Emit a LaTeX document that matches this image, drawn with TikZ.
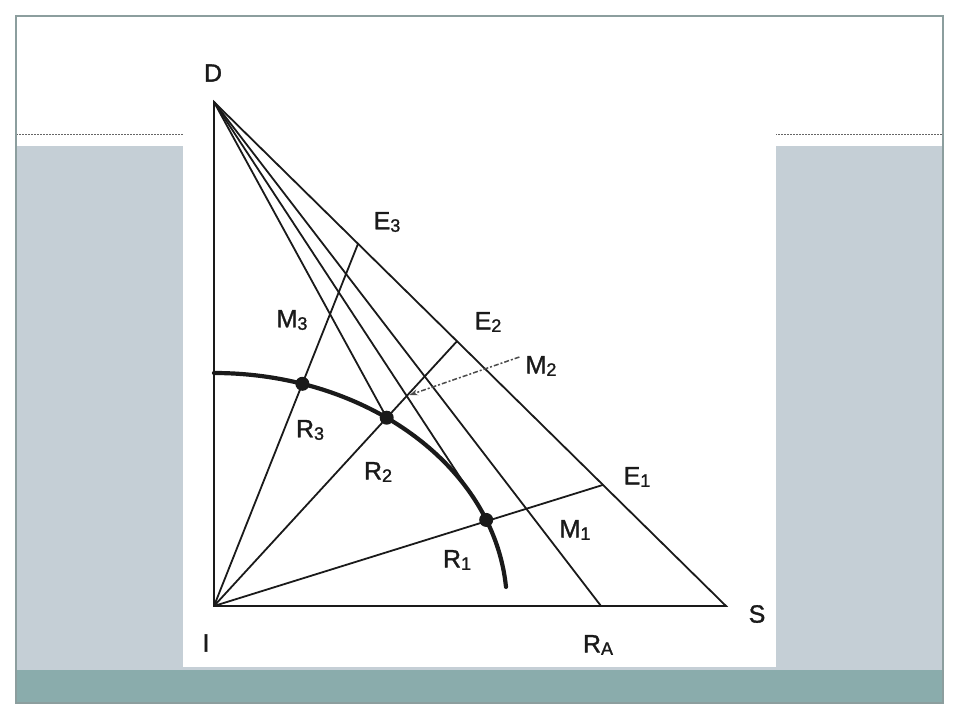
\documentclass[tikz,border=0pt]{standalone}
\usepackage{fontspec}
\setmainfont{Liberation Sans}
\newfontfamily\labfont[FakeBold=1.3]{Liberation Sans}
\usetikzlibrary{arrows.meta}
\definecolor{bandblue}{HTML}{C5CFD6}
\definecolor{bandteal}{HTML}{8AACAC}
\definecolor{framec}{HTML}{8C9E9E}
\definecolor{ink}{HTML}{1A1A1A}
\newcommand\sbs[1]{\raisebox{-2.5pt}{\fontsize{18}{18}\selectfont #1}}
\begin{document}
\begin{tikzpicture}[x=1pt,y=-1pt,
  lab/.style={inner sep=0pt, font=\labfont\fontsize{25}{25}\selectfont, text=ink},
  edge/.style={draw=ink, line width=1.8pt},
  curve/.style={draw=ink, line width=4.2pt, line cap=round},
  dotm/.style={fill=ink},
  ptr/.style={draw=black!70, line width=1.5pt, dash pattern=on 5pt off 2pt on 2pt off 2pt, -{Stealth[length=8pt,width=6pt]}, shorten >=3pt}]
\useasboundingbox (0,0) rectangle (960,720);
% slide background
\fill[white] (0,0) rectangle (960,720);
\fill[bandblue] (16,146) rectangle (943,670);
\fill[bandteal] (16,670) rectangle (943,703);
\draw[black!60, line width=0.8pt, dash pattern=on 2pt off 1pt] (16,134) -- (943,134);
\fill[white] (183,120) rectangle (776,667);
\draw[framec, line width=1.3pt] (16,16) rectangle (943,703);
% points
\coordinate (I) at (214,606);
\coordinate (D) at (214,102);
\coordinate (S) at (726,606);
\coordinate (RA) at (601,606);
\coordinate (E1) at (603,484.9);
\coordinate (E2) at (457,341.2);
\coordinate (E3) at (358,243.8);
\coordinate (R1) at (486.2,519.9);
\coordinate (R2) at (386.7,417.7);
\coordinate (R3) at (302.4,383.8);
\coordinate (T) at (473.9,498.4);
\coordinate (C0) at (214,373);
% lines
\draw[edge] (D) -- (I) -- (S) -- cycle;
\draw[edge] (D) -- (R2);
\draw[edge] (D) -- (T);
\draw[edge] (D) -- (RA);
\draw[edge] (I) -- (E1);
\draw[edge] (I) -- (E2);
\draw[edge] (I) -- (E3);
\coordinate (M1) at (intersection of I--E1 and D--RA);
\coordinate (M2) at (intersection of I--E2 and D--T);
\coordinate (M3) at (intersection of I--E3 and D--R2);
% curve
\draw[curve] (C0) arc[start angle=-90, end angle=-4.7, x radius=293, y radius=233];
\fill[dotm] (R1) circle (7);
\fill[dotm] (R2) circle (7);
\fill[dotm] (R3) circle (7);
% labels
\node[lab] (dlab) at (213,73) {D};
\node[lab] (ilab) at (206,643) {I};
\node[lab] (slab) at (757,614) {S};
\node[lab] (ralab) at (598,645) {R\sbs{A}};
\node[lab] (e1lab) at (637,477) {E\sbs{1}};
\node[lab] (e2lab) at (488,322) {E\sbs{2}};
\node[lab] (e3lab) at (387,222) {E\sbs{3}};
\node[lab] (m1lab) at (575,530) {M\sbs{1}};
\node[lab] (m2lab) at (541,366) {M\sbs{2}};
\node[lab] (m3lab) at (292,320) {M\sbs{3}};
\node[lab] (r1lab) at (457,560) {R\sbs{1}};
\node[lab] (r2lab) at (378,472) {R\sbs{2}};
\node[lab] (r3lab) at (310,430) {R\sbs{3}};
\draw[ptr] ([shift={(-6,-9)}]m2lab.west) -- (M2);
\end{tikzpicture}
\end{document}
